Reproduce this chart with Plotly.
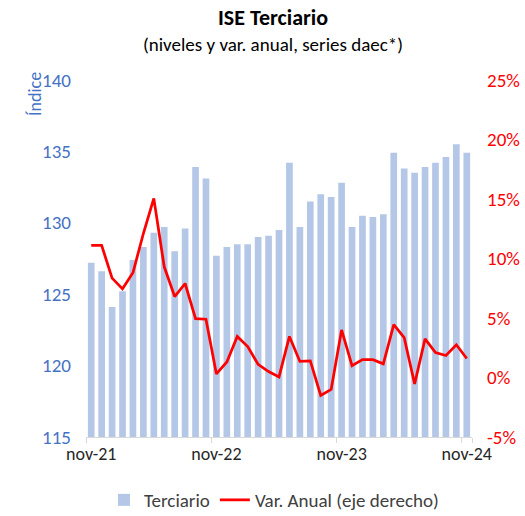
import plotly.graph_objects as go

months = ["nov-21", "dic-21", "ene-22", "feb-22", "mar-22", "abr-22", "may-22", "jun-22",
          "jul-22", "ago-22", "sep-22", "oct-22", "nov-22", "dic-22", "ene-23", "feb-23",
          "mar-23", "abr-23", "may-23", "jun-23", "jul-23", "ago-23", "sep-23", "oct-23",
          "nov-23", "dic-23", "ene-24", "feb-24", "mar-24", "abr-24", "may-24", "jun-24",
          "jul-24", "ago-24", "sep-24", "oct-24", "nov-24"]

terciario = [127.2, 126.6, 124.1, 125.2, 127.4, 128.3, 129.3, 129.7, 128.0, 129.6,
             133.9, 133.1, 127.7, 128.3, 128.5, 128.5, 129.0, 129.1, 129.5, 134.2,
             129.7, 131.5, 132.0, 131.8, 132.8, 129.7, 130.5, 130.4, 130.6, 134.9,
             133.8, 133.5, 133.9, 134.2, 134.6, 135.5, 134.9]

var_anual = [11.1, 11.1, 8.35, 7.45, 8.8, 12.1, 15.05, 9.3, 6.8, 7.9,
             4.95, 4.9, 0.3, 1.3, 3.45, 2.6, 1.1, 0.5, 0.05, 3.45,
             1.35, 1.4, -1.5, -1.0, 4.0, 1.0, 1.5, 1.5, 1.15, 4.45,
             3.35, -0.55, 3.25, 2.1, 1.85, 2.75, 1.6]

left_ticks = [115, 120, 125, 130, 135, 140]
right_ticks = [-5, 0, 5, 10, 15, 20, 25]
right_labels = ["-5%", "0%", "5%", "10%", "15%", "20%", "25%"]
x_ticks = ["nov-21", "nov-22", "nov-23", "nov-24"]

FONT = "Carlito, Calibri, Lato, sans-serif"

ML, MR, MT, MB = 86, 53, 80, 79
W, H = 525, 516
plot_h = H - MT - MB
plot_w = W - ML - MR


def py(pix):
    return (H - MB - pix) / plot_h


def px(pix):
    return (pix - ML) / plot_w


fig = go.Figure()
fig.add_trace(go.Bar(x=months, y=terciario, name="Terciario",
                     marker=dict(color="#B4C7E7", line=dict(width=0)),
                     yaxis="y"))
fig.add_trace(go.Scatter(x=months, y=var_anual, name="Var. Anual (eje derecho)",
                         mode="lines", line=dict(color="#FF0000", width=2.75),
                         yaxis="y2"))

fig.update_layout(
    width=W, height=H,
    margin=dict(l=ML, r=MR, t=MT, b=MB, autoexpand=False),
    paper_bgcolor="white", plot_bgcolor="white",
    font=dict(family=FONT, size=19, color="#404040"),
    bargap=0.36,
    showlegend=True,
    legend=dict(orientation="h", x=px(274), xanchor="center", y=py(500), yanchor="middle",
                font=dict(size=19, color="#404040"), traceorder="normal"),
    xaxis=dict(type="category", tickmode="array", tickvals=x_ticks, ticktext=x_ticks,
               tickson="boundaries", ticks="outside", ticklen=5, tickcolor="#D9D9D9",
               showline=True, linecolor="#D9D9D9", linewidth=1, showgrid=False,
               tickangle=0, automargin=False,
               tickfont=dict(size=18, color="#262626"),
               range=[-0.5, len(months) - 0.5]),
    yaxis=dict(range=[115, 140], tickvals=left_ticks, showgrid=False, zeroline=False,
               showline=False, tickfont=dict(size=19, color="#4472C4"),
               ticklabelstandoff=14, automargin=False),
    yaxis2=dict(range=[-5, 25], tickmode="array", tickvals=right_ticks,
                ticktext=right_labels, overlaying="y",
                side="right", showgrid=False, zeroline=False, showline=False,
                tickfont=dict(size=19, color="#FF0000"), ticklabelstandoff=14,
                automargin=False),
    annotations=[
        dict(text="<b>ISE Terciario</b>", x=px(273), xref="paper", y=py(18), yref="paper",
             xanchor="center", yanchor="middle", showarrow=False,
             font=dict(size=22, color="#000000", family=FONT)),
        dict(text="(niveles y var. anual, series daec*)", x=px(273), xref="paper",
             y=py(45), yref="paper", xanchor="center", yanchor="middle", showarrow=False,
             font=dict(size=19, color="#000000", family=FONT)),
        dict(text="Índice", textangle=-90, x=px(35), xref="paper", y=py(94), yref="paper",
             xanchor="center", yanchor="middle", showarrow=False,
             font=dict(size=18, color="#4472C4", family=FONT)),
    ],
)

fig.write_html("out.html", config={"displayModeBar": False},
               post_script="document.body.style.margin='0';")
